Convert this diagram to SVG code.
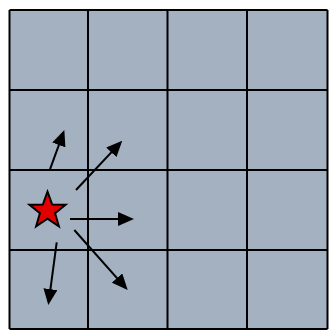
<svg xmlns="http://www.w3.org/2000/svg" width="329" height="330" viewBox="0 0 329 330">
  <style>
    .grid { stroke: #000; stroke-width: 2; fill: none; }
    .arrow { stroke: #000; stroke-width: 2; fill: none; marker-end: url(#head); }
  </style>
  <defs>
    <marker id="head" markerUnits="userSpaceOnUse" markerWidth="16" markerHeight="14" refX="13" refY="7" orient="auto">
      <path d="M0,0 L16,7 L0,14 z" fill="#000"/>
    </marker>
  </defs>
  <rect width="329" height="330" fill="#fff"/>
  <g id="grid">
    <rect x="9.5" y="10" width="318" height="319" fill="#a3b1c0"/>
    <path class="grid" d="M9.5,10 V329 M88,10 V329 M167.5,10 V329 M247,10 V329 M327.5,10 V329 M9.5,10 H327.5 M9.5,90 H327.5 M9.5,170 H327.5 M9.5,250 H327.5 M9.5,329 H327.5"/>
  </g>
  <g id="connectors">
    <line class="arrow" x1="50" y1="169.3" x2="63.3" y2="132.8"/>
    <line class="arrow" x1="76" y1="190" x2="120.2" y2="142.9"/>
    <line class="arrow" x1="70" y1="219" x2="131" y2="219"/>
    <line class="arrow" x1="74.3" y1="230" x2="125.7" y2="287.8"/>
    <line class="arrow" x1="56.7" y1="242.3" x2="48.7" y2="302"/>
  </g>
  <g id="star">
    <polygon points="47.5,191.7 52.2,204.5 65.6,204.8 55.1,213.2 58.9,226.3 47.5,218.6 36.1,226.3 39.9,213.2 29.4,204.8 42.8,204.5" fill="#e00000" stroke="#000" stroke-width="2" stroke-linejoin="miter"/>
  </g>
</svg>
